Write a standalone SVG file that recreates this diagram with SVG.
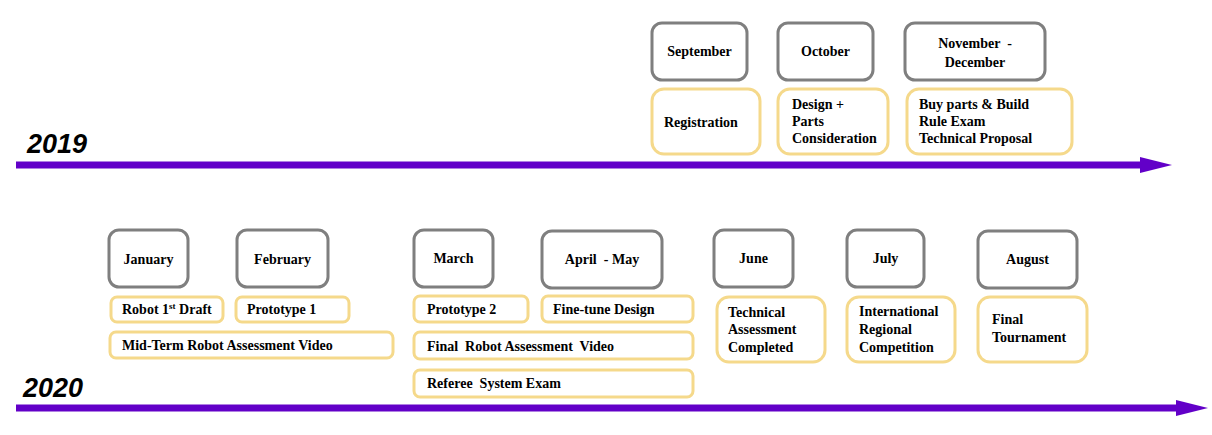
<svg xmlns="http://www.w3.org/2000/svg" width="1212" height="435" viewBox="0 0 1212 435">
<style>
.month{fill:#fff;stroke:#7f7f7f;stroke-width:3}
.evt{fill:#fff;stroke:#f5d98b;stroke-width:3}
.t{font-family:"Liberation Serif","Times New Roman",serif;font-weight:bold;font-size:14px;fill:#000}
.c{text-anchor:middle}
.pre{white-space:pre}
.year{font-family:"Liberation Sans",Arial,sans-serif;font-weight:bold;font-style:italic;font-size:27px;fill:#000}
.axis{stroke:#6200c8;stroke-width:7;fill:none}
</style>
<defs>
<marker id="arrow" markerUnits="userSpaceOnUse" markerWidth="32" markerHeight="16" refX="0" refY="8" orient="auto">
<path d="M0,0 L32,8 L0,16 z" fill="#6200c8"/>
</marker>
</defs>
<rect width="1212" height="435" fill="#fff"/>

<g id="connectors">
<line class="axis" x1="16" y1="165" x2="1140" y2="165" marker-end="url(#arrow)"/>
<line class="axis" x1="16" y1="408" x2="1176" y2="408" marker-end="url(#arrow)"/>
</g>

<g id="year-2019"><text class="year" x="27" y="153">2019</text></g>
<g id="year-2020"><text class="year" x="23" y="397">2020</text></g>

<g id="september"><rect class="month" x="652" y="23" width="95" height="57" rx="10"/><text class="t c" x="699.5" y="56">September</text></g>
<g id="october"><rect class="month" x="778" y="23" width="95" height="57" rx="10"/><text class="t c" x="825.5" y="56">October</text></g>
<g id="november-december"><rect class="month" x="905" y="23" width="140" height="57" rx="10"/><text class="t c pre" x="975" y="48">November  -</text><text class="t c" x="975" y="67">December</text></g>

<g id="registration"><rect class="evt" x="652" y="89" width="108" height="65" rx="12"/><text class="t" x="664" y="127">Registration</text></g>
<g id="design"><rect class="evt" x="778" y="89" width="110" height="65" rx="12"/><text class="t" x="792" y="109">Design +</text><text class="t" x="792" y="126">Parts</text><text class="t" x="792" y="143">Consideration</text></g>
<g id="buy-parts"><rect class="evt" x="907" y="89" width="165" height="65" rx="12"/><text class="t" x="919" y="109">Buy parts &amp; Build</text><text class="t" x="919" y="126">Rule Exam</text><text class="t" x="919" y="143">Technical Proposal</text></g>

<g id="january"><rect class="month" x="109" y="230" width="79" height="57" rx="10"/><text class="t c" x="148.5" y="264">January</text></g>
<g id="february"><rect class="month" x="237" y="230" width="91" height="57" rx="10"/><text class="t c" x="282.5" y="264">February</text></g>
<g id="march"><rect class="month" x="414" y="230" width="79" height="57" rx="10"/><text class="t c" x="453.5" y="263">March</text></g>
<g id="april-may"><rect class="month" x="542" y="231" width="120" height="57" rx="10"/><text class="t c pre" x="602" y="264">April  - May</text></g>
<g id="june"><rect class="month" x="714" y="230" width="79" height="57" rx="10"/><text class="t c" x="753.5" y="263">June</text></g>
<g id="july"><rect class="month" x="847" y="230" width="77" height="57" rx="10"/><text class="t c" x="885.5" y="263">July</text></g>
<g id="august"><rect class="month" x="978" y="231" width="99" height="57" rx="10"/><text class="t c" x="1027.5" y="264">August</text></g>

<g id="robot-first-draft"><rect class="evt" x="111" y="297" width="112" height="25" rx="6"/><text class="t" x="122" y="314">Robot 1<tspan font-size="9" dy="-5">st</tspan><tspan dy="5"> Draft</tspan></text></g>
<g id="prototype-1"><rect class="evt" x="236" y="297" width="113" height="25" rx="6"/><text class="t" x="247" y="314">Prototype 1</text></g>
<g id="mid-term-video"><rect class="evt" x="110" y="332" width="283" height="26" rx="6"/><text class="t" x="122" y="350">Mid-Term Robot Assessment Video</text></g>
<g id="prototype-2"><rect class="evt" x="414" y="296" width="114" height="26" rx="6"/><text class="t" x="427" y="314">Prototype 2</text></g>
<g id="fine-tune"><rect class="evt" x="542" y="296" width="151" height="26" rx="6"/><text class="t" x="553" y="314">Fine-tune Design</text></g>
<g id="final-robot-video"><rect class="evt" x="414" y="332" width="279" height="27" rx="6"/><text class="t pre" x="427" y="351">Final  Robot Assessment  Video</text></g>
<g id="referee-exam"><rect class="evt" x="414" y="370" width="279" height="27" rx="6"/><text class="t pre" x="427" y="388">Referee  System Exam</text></g>
<g id="technical-assessment"><rect class="evt" x="717" y="297" width="108" height="65" rx="12"/><text class="t" x="728" y="317">Technical</text><text class="t" x="728" y="334">Assessment</text><text class="t" x="728" y="352">Completed</text></g>
<g id="international-regional"><rect class="evt" x="847" y="297" width="108" height="65" rx="12"/><text class="t" x="859" y="316">International</text><text class="t" x="859" y="334">Regional</text><text class="t" x="859" y="352">Competition</text></g>
<g id="final-tournament"><rect class="evt" x="978" y="297" width="109" height="65" rx="12"/><text class="t" x="992" y="324">Final</text><text class="t" x="992" y="342">Tournament</text></g>
</svg>
